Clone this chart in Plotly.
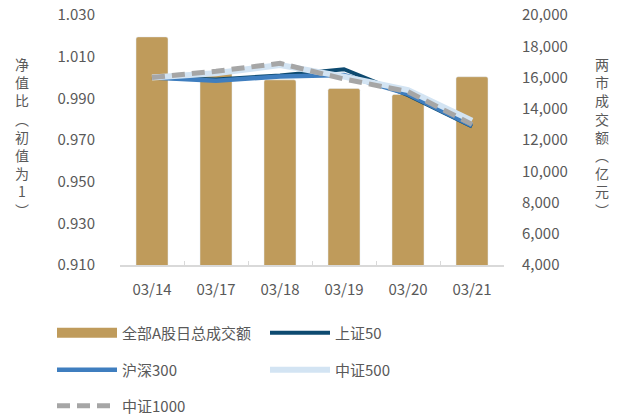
import plotly.graph_objects as go

dates = ["03/14", "03/17", "03/18", "03/19", "03/20", "03/21"]
turnover = [18600, 16400, 15850, 15300, 14920, 16050]
sz50 = [1.000, 0.9990, 1.0010, 1.0040, 0.9915, 0.9765]
hs300 = [1.000, 0.9985, 1.0005, 1.0012, 0.9920, 0.9768]
zz500 = [1.000, 1.0020, 1.0060, 1.0004, 0.9940, 0.9793]
zz1000 = [1.000, 1.0030, 1.0068, 0.9993, 0.9932, 0.9775]

nav_ticks = [0.910, 0.930, 0.950, 0.970, 0.990, 1.010, 1.030]
vol_ticks = [4000, 6000, 8000, 10000, 12000, 14000, 16000, 18000, 20000]

GOLD = "#BF9B5B"
DARK = "#0D4A70"
BLUE = "#3F7EBF"
LIGHT = "#D3E4F3"
GRAY = "#A6A6A6"
TXT = "#595959"
FONT = "Noto Sans CJK SC, sans-serif"

fig = go.Figure()

fig.add_trace(go.Bar(x=dates, y=turnover, marker_color=GOLD, width=0.5,
                     yaxis="y", showlegend=False, name="全部A股日总成交额"))
# legend-only entry for bars (wide swatch)
fig.add_trace(go.Scatter(x=[None], y=[None], mode="lines", name="全部A股日总成交额",
                         line=dict(color=GOLD, width=12), yaxis="y2", legend="legend"))
fig.add_trace(go.Scatter(x=dates, y=sz50, mode="lines", name="上证50",
                         line=dict(color=DARK, width=4), yaxis="y2", legend="legend2"))
fig.add_trace(go.Scatter(x=dates, y=hs300, mode="lines", name="沪深300",
                         line=dict(color=BLUE, width=4.5), yaxis="y2", legend="legend3"))
fig.add_trace(go.Scatter(x=dates, y=zz500, mode="lines", name="中证500",
                         line=dict(color=LIGHT, width=6), yaxis="y2", legend="legend4"))
fig.add_trace(go.Scatter(x=dates, y=zz1000, mode="lines", name="中证1000",
                         line=dict(color=GRAY, width=5, dash="13px,7px"), yaxis="y2", legend="legend5"))

def px_x(px):
    return (px - 120) / 384.0

def px_y(py):
    return (265 - py) / 250.0

def leg(xp, yp, iw):
    return dict(x=px_x(xp), y=px_y(yp), xanchor="left", yanchor="middle",
                orientation="h", itemwidth=iw, bgcolor="rgba(0,0,0,0)",
                font=dict(family=FONT, size=15, color=TXT), itemclick=False)

fig.update_layout(
    width=624, height=417,
    margin=dict(l=120, r=120, t=15, b=152, autoexpand=False),
    paper_bgcolor="white", plot_bgcolor="white",
    font=dict(family=FONT, size=15, color=TXT),
    barcornerradius=2,
    xaxis=dict(type="category", showline=True, linecolor="#D9D9D9", linewidth=1.5,
               ticks="inside", tickson="boundaries", ticklen=4, tickcolor="#D9D9D9",
               showgrid=False, tickfont=dict(size=15, color=TXT), ticklabelstandoff=10),
    yaxis=dict(side="right", range=[4000, 20000], tickmode="array", tickvals=vol_ticks,
               tickformat=",", showgrid=False, showline=False, zeroline=False,
               tickfont=dict(size=15, color=TXT), ticklabelstandoff=17),
    yaxis2=dict(side="left", overlaying="y", range=[0.91, 1.03], tickmode="array",
                tickvals=nav_ticks, tickformat=".3f",
                showgrid=False, showline=False, zeroline=False,
                tickfont=dict(size=15, color=TXT), ticklabelstandoff=24),
    legend=leg(52, 333, 60),
    legend2=leg(265, 333, 60),
    legend3=leg(52, 370, 60),
    legend4=leg(265, 370, 60),
    legend5=leg(52, 406, 60),
)

fig.add_annotation(text="<br>".join(list("净值比")) + "<br>︵<br>" + "<br>".join(list("初值为1")) + "<br>︶",
                   xref="paper", yref="paper", x=px_x(22), y=px_y(137), showarrow=False,
                   xanchor="center", yanchor="middle", font=dict(family=FONT, size=14, color=TXT))
fig.add_annotation(text="<br>".join(list("两市成交额")) + "<br>︵<br>" + "<br>".join(list("亿元")) + "<br>︶",
                   xref="paper", yref="paper", x=px_x(602), y=px_y(137), showarrow=False,
                   xanchor="center", yanchor="middle", font=dict(family=FONT, size=14, color=TXT))

fig.write_html("out.html")
